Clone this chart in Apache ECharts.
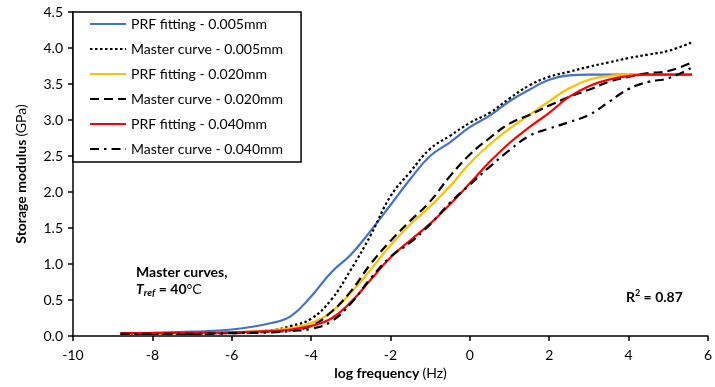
<!DOCTYPE html>
<html>
<head>
<meta charset="utf-8">
<script src="https://cdn.jsdelivr.net/npm/echarts@6/dist/echarts.min.js"></script>
<style>
html,body{margin:0;padding:0;background:#fff;}
#c{width:715px;height:387px;}
</style>
</head>
<body>
<div id="c"></div>
<script>
// log frequency (Hz) sample positions
const logFreq = [-8.8, -8, -7, -6, -5, -4.5, -4, -3.5, -3, -2.5, -2, -1.5, -1, -0.5, 0, 0.5, 1, 1.5, 2, 2.5, 3, 3.5, 4, 4.5, 5, 5.6];
// Storage modulus (GPa)
const prf005 = [0.04, 0.045, 0.06, 0.09, 0.18, 0.28, 0.55, 0.88, 1.13, 1.46, 1.82, 2.18, 2.50, 2.69, 2.90, 3.06, 3.26, 3.42, 3.56, 3.62, 3.63, 3.63, 3.63, 3.63, 3.63, 3.63];
const mc005  = [0.03, 0.03, 0.035, 0.045, 0.08, 0.14, 0.24, 0.50, 0.92, 1.40, 1.94, 2.28, 2.60, 2.78, 2.96, 3.10, 3.30, 3.48, 3.60, 3.67, 3.74, 3.80, 3.86, 3.91, 3.96, 4.08];
const prf020 = [0.035, 0.035, 0.04, 0.05, 0.08, 0.11, 0.18, 0.33, 0.60, 0.92, 1.26, 1.55, 1.80, 2.08, 2.40, 2.66, 2.88, 3.07, 3.26, 3.44, 3.56, 3.61, 3.63, 3.63, 3.63, 3.63];
const mc020  = [0.03, 0.03, 0.03, 0.04, 0.06, 0.08, 0.14, 0.33, 0.62, 1.00, 1.32, 1.60, 1.87, 2.22, 2.52, 2.75, 2.95, 3.07, 3.20, 3.32, 3.42, 3.53, 3.60, 3.65, 3.68, 3.80];
const prf040 = [0.04, 0.04, 0.045, 0.05, 0.07, 0.09, 0.14, 0.24, 0.47, 0.78, 1.09, 1.33, 1.56, 1.83, 2.12, 2.42, 2.68, 2.90, 3.10, 3.32, 3.47, 3.56, 3.61, 3.63, 3.63, 3.63];
const mc040  = [0.03, 0.03, 0.03, 0.04, 0.05, 0.07, 0.10, 0.20, 0.45, 0.80, 1.10, 1.30, 1.55, 1.85, 2.10, 2.35, 2.58, 2.78, 2.88, 2.97, 3.07, 3.25, 3.43, 3.53, 3.58, 3.73];

const seriesNames = ['PRF fitting - 0.005mm', 'Master curve - 0.005mm', 'PRF fitting - 0.020mm', 'Master curve - 0.020mm', 'PRF fitting - 0.040mm', 'Master curve - 0.040mm'];
const seriesValues = [prf005, mc005, prf020, mc020, prf040, mc040];
const seriesColors = ['#4472C4', '#000000', '#FFC000', '#000000', '#FF0000', '#000000'];
const seriesDash = ['solid', [2.5, 2.5], 'solid', [9, 5], 'solid', [9, 5, 2.5, 5]];
const yTicks = ['0.0','0.5','1.0','1.5','2.0','2.5','3.0','3.5','4.0','4.5'];

const FONT = 'Lato';
const chart = echarts.init(document.getElementById('c'));
const series = seriesNames.map((n, i) => ({
  name: n,
  type: 'line',
  data: logFreq.map((x, j) => [x, seriesValues[i][j]]),
  showSymbol: false,
  symbol: 'none',
  smooth: 0.45,
  lineStyle: { color: seriesColors[i], width: 2.2, type: seriesDash[i], cap: 'butt' },
  itemStyle: { color: seriesColors[i] },
  animation: false,
  z: 2 + i
}));

chart.setOption({
  animation: false,
  textStyle: { fontFamily: FONT },
  grid: { left: 73, right: 2, top: 12, bottom: 51, containLabel: false },
  legend: {
    orient: 'vertical',
    left: 73, top: 12,
    padding: [5, 18, 6, 16],
    itemWidth: 36, itemHeight: 14, itemGap: 11,
    backgroundColor: '#fff',
    borderColor: '#000', borderWidth: 1.5,
    itemStyle: { opacity: 0 },
    textStyle: { fontFamily: FONT, fontSize: 14, color: '#000' },
    data: seriesNames
  },
  xAxis: {
    type: 'value', min: -10, max: 6, interval: 2,
    name: '{b|log frequency} {n|(Hz)}',
    nameLocation: 'middle', nameGap: 29,
    nameTextStyle: { fontFamily: FONT, color: '#000', rich: { b: { fontWeight: 'bold', fontSize: 14, fontFamily: FONT }, n: { fontSize: 14, fontFamily: FONT } } },
    axisLine: { onZero: false, lineStyle: { color: '#000', width: 1.5 } },
    axisTick: { show: true, length: 5, lineStyle: { color: '#000', width: 1.5 } },
    axisLabel: { color: '#000', fontSize: 14, fontFamily: FONT, margin: 12 },
    splitLine: { show: false }
  },
  yAxis: {
    type: 'value', min: 0, max: 4.5, interval: 0.5,
    name: '{b|Storage modulus} {n|(GPa)}',
    nameLocation: 'middle', nameGap: 45, nameRotate: 90,
    nameTextStyle: { fontFamily: FONT, color: '#000', rich: { b: { fontWeight: 'bold', fontSize: 14, fontFamily: FONT }, n: { fontSize: 14, fontFamily: FONT } } },
    axisLine: { show: true, onZero: false, lineStyle: { color: '#000', width: 1.5 } },
    axisTick: { show: true, length: 5, lineStyle: { color: '#000', width: 1.5 } },
    axisLabel: { color: '#000', fontSize: 14, fontFamily: FONT, margin: 10,
      formatter: v => yTicks[Math.round(v / 0.5)] },
    splitLine: { show: false }
  },
  graphic: [
    { type: 'text', left: 136, top: 265, z: 100,
      style: { text: 'Master curves,', fontFamily: FONT, fontSize: 14, fontWeight: 'bold', fill: '#000' } },
    { type: 'text', left: 136, top: 282, z: 100,
      style: {
        text: '{t|T}{s|ref}{b| = 40}{n|°C}',
        fontFamily: FONT,
        rich: {
          t: { fontStyle: 'italic', fontWeight: 'bold', fontSize: 14, fontFamily: FONT, fill: '#000' },
          s: { fontStyle: 'italic', fontWeight: 'bold', fontSize: 10, fontFamily: FONT, fill: '#000', padding: [8, 0, 0, 0] },
          b: { fontWeight: 'bold', fontSize: 14, fontFamily: FONT, fill: '#000' },
          n: { fontSize: 14, fontFamily: FONT, fill: '#000' }
        }
      } },
    { type: 'text', left: 626, top: 289, z: 100,
      style: {
        text: '{b|R}{p|2}{b| = 0.87}',
        fontFamily: FONT,
        rich: {
          b: { fontWeight: 'bold', fontSize: 14, fontFamily: FONT, fill: '#000' },
          p: { fontWeight: 'bold', fontSize: 9, fontFamily: FONT, fill: '#000', padding: [0, 0, 7, 0] }
        }
      } }
  ],
  series: series
});
</script>
</body>
</html>
